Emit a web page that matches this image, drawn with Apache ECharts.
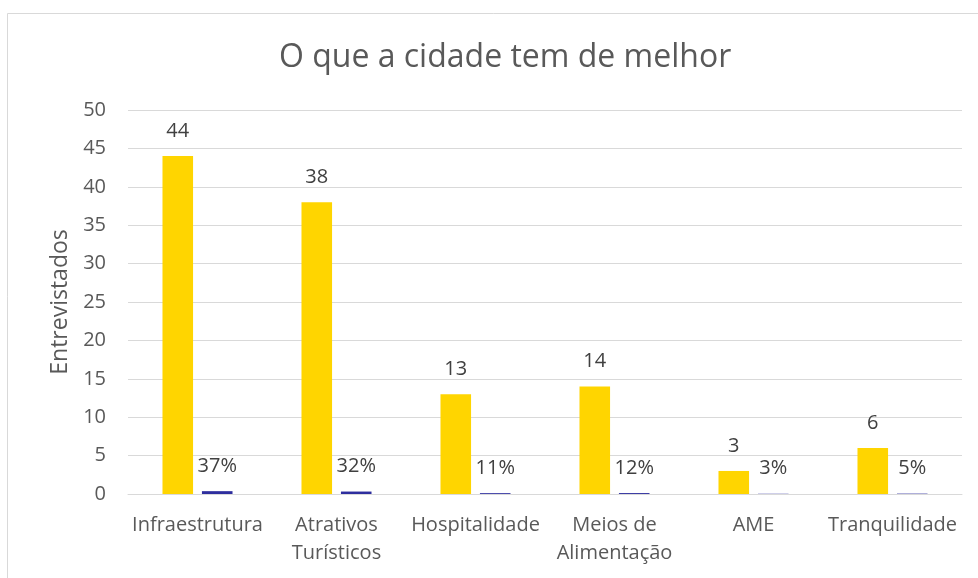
<!DOCTYPE html>
<html>
<head>
<meta charset="utf-8">
<script src="https://cdn.jsdelivr.net/npm/echarts@6/dist/echarts.min.js"></script>
<style>
  html, body { margin: 0; padding: 0; background: #ffffff; }
  #chart { width: 978px; height: 578px; }
</style>
</head>
<body>
<div id="chart"></div>
<script>
// Categories and values
var categories = ['Infraestrutura', 'Atrativos\nTurísticos', 'Hospitalidade', 'Meios de\nAlimentação', 'AME', 'Tranquilidade'];
var respondents = [44, 38, 13, 14, 3, 6];
var shares = [0.37, 0.32, 0.11, 0.12, 0.03, 0.05];
var yTicks = { min: 0, max: 50, interval: 5 };

var textColor = '#595959';
var font = '"Open Sans", "Noto Sans", sans-serif';

var chart = echarts.init(document.getElementById('chart'));
chart.setOption({
  animation: false,
  backgroundColor: '#ffffff',
  graphic: [{
    type: 'rect',
    left: 5, top: 11,
    shape: { width: 1000, height: 600 },
    style: { fill: 'none', stroke: '#d9d9d9', lineWidth: 1 },
    silent: true
  }],
  title: {
    text: 'O que a cidade tem de melhor',
    left: 274,
    top: 37,
    textStyle: { color: textColor, fontSize: 32, fontWeight: 'normal', fontFamily: font }
  },
  grid: { left: 128, right: 16, top: 110, bottom: 84 },
  xAxis: {
    type: 'category',
    data: categories,
    axisLine: { show: true, lineStyle: { color: '#d9d9d9' } },
    axisTick: { show: false },
    axisLabel: {
      color: textColor, fontSize: 20, fontFamily: font,
      margin: 17, lineHeight: 28, interval: 0
    }
  },
  yAxis: {
    type: 'value',
    min: yTicks.min, max: yTicks.max, interval: yTicks.interval,
    name: 'Entrevistados',
    nameLocation: 'middle',
    nameGap: 55,
    nameTextStyle: { color: textColor, fontSize: 23, fontFamily: font },
    axisLine: { show: false },
    axisTick: { show: false },
    axisLabel: { color: textColor, fontSize: 20, fontFamily: font, margin: 22 },
    splitLine: { lineStyle: { color: '#d9d9d9', width: 1 } }
  },
  series: [
    {
      name: 'Entrevistados',
      type: 'bar',
      data: respondents,
      barWidth: '22%',
      barGap: '29%',
      itemStyle: { color: '#FFD500' },
      label: {
        show: true, position: 'top', distance: 15,
        color: '#404040', fontSize: 20, fontFamily: font
      }
    },
    {
      name: 'Percentual',
      type: 'bar',
      data: shares,
      barWidth: '22%',
      itemStyle: { color: '#2E2E9E' },
      label: {
        show: true, position: 'top', distance: 15,
        color: '#404040', fontSize: 20, fontFamily: font,
        formatter: function (p) { return Math.round(p.value * 100) + '%'; }
      }
    }
  ]
});
</script>
</body>
</html>
